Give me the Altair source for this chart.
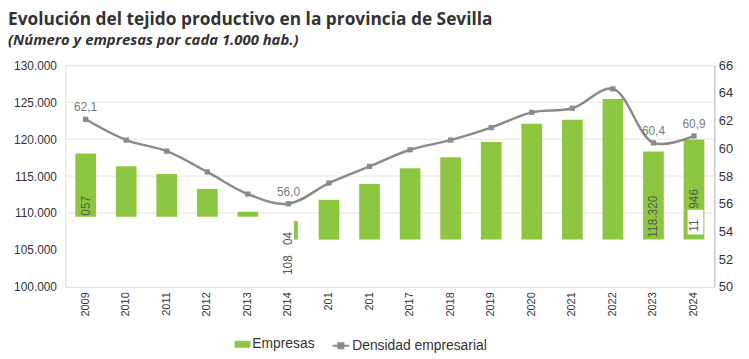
import altair as alt
import pandas as pd

# ---- data ----
years = ["2009", "2010", "2011", "2012", "2013", "2014", "2015", "2016",
         "2017", "2018", "2019", "2020", "2021", "2022", "2023", "2024"]
x_labels = ["2009", "2010", "2011", "2012", "2013", "2014", "201", "201",
            "2017", "2018", "2019", "2020", "2021", "2022", "2023", "2024"]
empresas = [118057, 116339, 115268, 113259, 110179, 108904, 111786, 113929,
            116071, 117545, 119621, 122098, 122634, 125446, 118320, 119946]
empresas_base = [109500, 109500, 109500, 109500, 109500, 106400, 106400, 106400,
                 106400, 106400, 106400, 106400, 106400, 106400, 106400, 106400]
densidad = [62.1, 60.6, 59.8, 58.3, 56.7, 56.0, 57.5, 58.7,
            59.9, 60.6, 61.5, 62.6, 62.9, 64.3, 60.4, 60.9]
densidad_labels = ["62,1", "", "", "", "", "56,0", "", "", "", "", "", "", "", "", "60,4", "60,9"]

left_ticks = [100000, 105000, 110000, 115000, 120000, 125000, 130000]
right_ticks = [50, 52, 54, 56, 58, 60, 62, 64, 66]
grid_values = [110000, 115000, 120000, 125000]

# partially visible value labels on the bars (garbled in the original)
bar_label_years = ["2009", "2014", "2014", "2023", "2024", "2024"]
bar_label_text = ["057", "04", "108", "118.320", "946", "11"]
bar_label_y = [110982, 106563, 102946, 109509, 111920, 108304]

# white patch covering part of the 2024 bar in the original
mask_year = ["2024"]
mask_top = [110446]
mask_bottom = [107098]

GREEN = "#8dc63f"
GRAY = "#8a8a8a"
FONT = "Liberation Sans"

df = pd.DataFrame({"year": years, "empresas": empresas, "base": empresas_base,
                   "densidad": densidad, "dlabel": densidad_labels})
df["s1"] = "Empresas"
df["s2"] = "Densidad empresarial"
df_bars = df[df["year"] != "2014"]
df_sliver = df[df["year"] == "2014"]
df_lab = pd.DataFrame({"year": bar_label_years, "text": bar_label_text, "y": bar_label_y})
df_mask = pd.DataFrame({"year": mask_year, "top": mask_top, "bottom": mask_bottom})
df_grid = pd.DataFrame({"g": grid_values})

label_expr = "datum.value"
for y, l in zip(years, x_labels):
    if y != l:
        label_expr = f"datum.value == '{y}' ? '{l}' : ({label_expr})"

x_scale = alt.Scale(domain=years, paddingInner=0.49, paddingOuter=0.245)
x_enc = alt.X("year:N", sort=years, scale=x_scale,
              axis=alt.Axis(title=None, labelAngle=270, labelExpr=label_expr, ticks=False,
                            domain=False, labelFontSize=11, labelColor="#333",
                            labelPadding=5, labelFont=FONT, labelBaseline="middle",
                            labelAlign="right", grid=False))
x_plain = alt.X("year:N", sort=years)

yl_scale = alt.Scale(domain=[100000, 130000], zero=False, nice=False)
yr_scale = alt.Scale(domain=[50, 66], zero=False, nice=False)

grid = alt.Chart(df_grid).mark_rule(color="#e6e6e6", strokeWidth=1).encode(
    y=alt.Y("g:Q", scale=yl_scale, axis=None))

bars = alt.Chart(df_bars).mark_bar(color=GREEN).encode(
    x=x_enc,
    y=alt.Y("empresas:Q", scale=yl_scale,
            axis=alt.Axis(title=None, values=left_ticks,
                          labelExpr="replace(format(datum.value, ','), ',', '.')",
                          ticks=False, domain=False, labelFontSize=12, labelColor="#333",
                          labelFont=FONT, labelPadding=9, grid=False)),
    y2="base:Q",
    color=alt.Color("s1:N", scale=alt.Scale(domain=["Empresas"], range=[GREEN]),
                    legend=alt.Legend(title=None, orient="none", legendX=171, legendY=274,
                                      symbolType="M-1,-0.44H1V0.44H-1Z", symbolSize=256,
                                      labelFontSize=14, labelFont=FONT, labelColor="#333",
                                      labelOffset=2, symbolStrokeWidth=0)),
)

sliver = alt.Chart(df_sliver).mark_bar(color=GREEN, size=4, xOffset=7.5).encode(
    x=x_plain, y=alt.Y("empresas:Q", scale=yl_scale, axis=None), y2="base:Q")

mask = alt.Chart(df_mask).mark_bar(color="white", size=16, xOffset=1.5).encode(
    x=x_plain, y=alt.Y("top:Q", scale=yl_scale, axis=None), y2="bottom:Q")

bar_labels = alt.Chart(df_lab).mark_text(angle=270, fontSize=12, font=FONT, color="#555b4a",
                                         align="center", baseline="middle").encode(
    x=x_plain, y=alt.Y("y:Q", scale=yl_scale, axis=None), text="text:N")

line = alt.Chart(df).mark_line(strokeWidth=2.5, interpolate="catmull-rom").encode(
    x=x_plain,
    y=alt.Y("densidad:Q", scale=yr_scale,
            axis=alt.Axis(title=None, orient="right", values=right_ticks,
                          ticks=False, domain=True, domainColor="#bfbfbf", domainWidth=1,
                          labelFontSize=13, labelColor="#333", labelFont=FONT,
                          labelPadding=4, grid=False)),
    color=alt.Color("s2:N", scale=alt.Scale(domain=["Densidad empresarial"], range=[GRAY]),
                    legend=alt.Legend(title=None, orient="none", legendX=269, legendY=274,
                                      symbolType="M-1,0H1M-0.3,-0.3H0.3V0.3H-0.3Z",
                                      symbolSize=289, symbolStrokeWidth=2,
                                      symbolFillColor=GRAY, symbolStrokeColor=GRAY,
                                      labelFontSize=14, labelFont=FONT, labelColor="#333",
                                      labelOffset=2)),
)

points = alt.Chart(df).mark_point(shape="square", filled=True, size=28, color=GRAY, opacity=1).encode(
    x=x_plain, y=alt.Y("densidad:Q", scale=yr_scale, axis=None))

line_labels = alt.Chart(df).mark_text(dy=-12, fontSize=12, font=FONT, color="#7a7a7a").encode(
    x=x_plain, y=alt.Y("densidad:Q", scale=yr_scale, axis=None),
    text="dlabel:N")

chart = alt.layer(grid, bars, sliver, mask, bar_labels, line, points, line_labels).resolve_scale(
    y="independent", color="independent"
).resolve_legend(color="independent").properties(
    width=656, height=224,
    padding={"left": 58, "top": 56, "right": 27, "bottom": 71},
    autosize=alt.AutoSizeParams(type="none"),
    title=alt.TitleParams(
        text="Evolución del tejido productivo en la provincia de Sevilla",
        subtitle="(Número y empresas por cada 1.000 hab.)",
        anchor="start", frame="group", dx=-58, offset=12,
        font="Open Sans", fontSize=17.5, fontWeight="bold", color="#333333",
        subtitleFont="Open Sans", subtitleFontSize=15, subtitleFontStyle="italic",
        subtitleFontWeight="bold", subtitleColor="#333", subtitlePadding=4,
    ),
).configure_view(stroke=None).configure(background="white")

chart.save("out.html", embed_options={"renderer": "svg", "actions": False})
